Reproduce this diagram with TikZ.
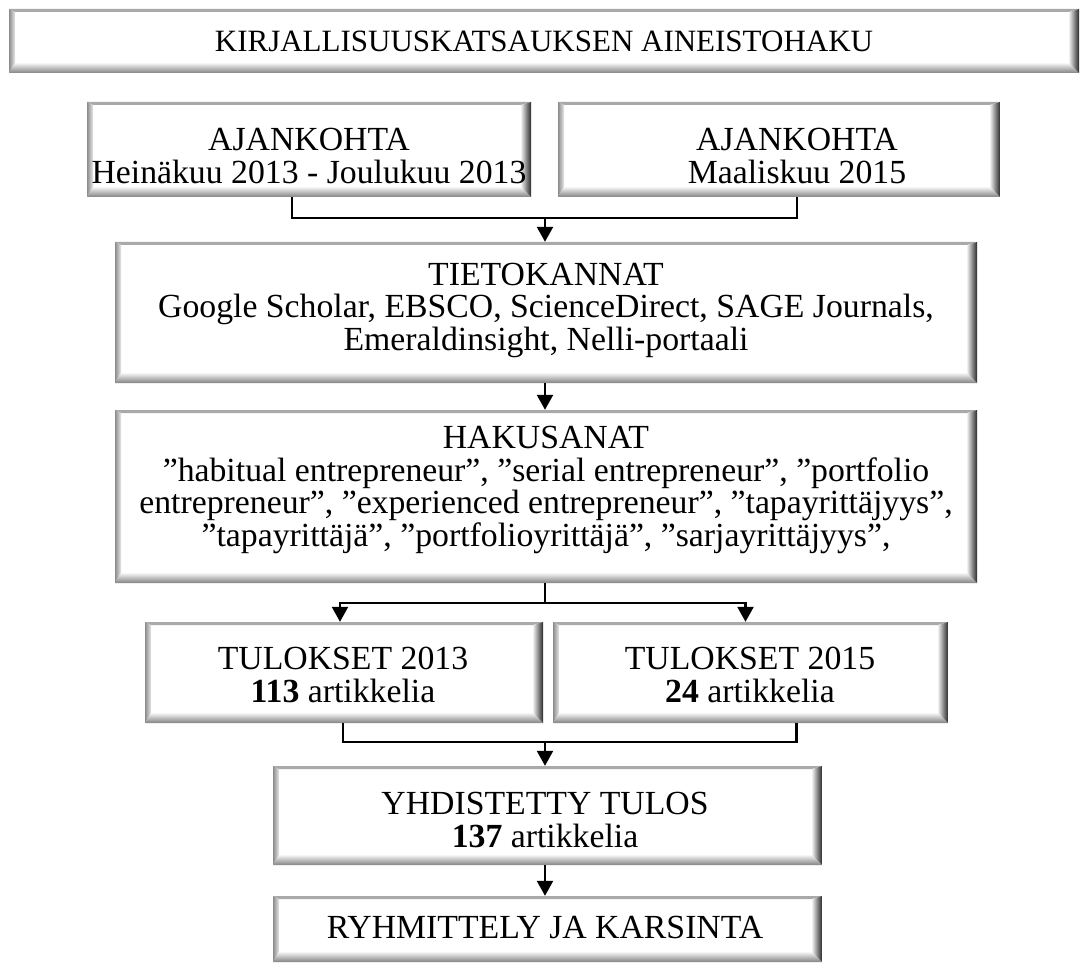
\documentclass[tikz,border=0pt]{standalone}
\usepackage{fontspec}
\setmainfont{Liberation Serif}
\usetikzlibrary{arrows.meta,calc}

% bevel colours
\definecolor{bvTop}{HTML}{A9A9A9}
\definecolor{bvLeftOut}{HTML}{8C8C8C}
\definecolor{bvLeftIn}{HTML}{E8E8E8}
\definecolor{bvBotIn}{HTML}{F6F6F6}
\definecolor{bvBotOut}{HTML}{828282}
\definecolor{bvRightIn}{HTML}{F0F0F0}
\definecolor{bvRightOut}{HTML}{2A2A2A}

% raised frame: thin top, narrow left, wide bottom and right edges
\newcommand\bevelframe{%
  \fill[bvTop] let \p1=(path picture bounding box.south west),\p2=(path picture bounding box.north east) in
    (\x1,\y2) -- (\x2,\y2) -- (\x2-10pt,\y2-3pt) -- (\x1+6pt,\y2-3pt) -- cycle;
  \shade[left color=bvLeftOut,right color=bvLeftIn] let \p1=(path picture bounding box.south west),\p2=(path picture bounding box.north east) in
    (\x1,\y2) -- (\x1+6pt,\y2-3pt) -- (\x1+6pt,\y1+10pt) -- (\x1,\y1) -- cycle;
  \shade[top color=bvBotIn,bottom color=bvBotOut] let \p1=(path picture bounding box.south west),\p2=(path picture bounding box.north east) in
    (\x1,\y1) -- (\x1+6pt,\y1+10pt) -- (\x2-10pt,\y1+10pt) -- (\x2,\y1) -- cycle;
  \shade[left color=bvRightIn,right color=bvRightOut] let \p1=(path picture bounding box.south west),\p2=(path picture bounding box.north east) in
    (\x2,\y1) -- (\x2-10pt,\y1+10pt) -- (\x2-10pt,\y2-3pt) -- (\x2,\y2) -- cycle;
}

\tikzset{
  bevelbox/.style={draw=none, fill=white, inner sep=0pt, path picture={\bevelframe}},
  label12/.style={align=center, inner sep=0pt, font=\fontsize{33.75}{32.5}\selectfont},
  label11/.style={align=center, inner sep=0pt, font=\fontsize{31}{31}\selectfont},
  conn/.style={line width=2.4pt, black},
  arr/.style={-{Triangle[width=16pt,length=15pt]}}
}

% box from its corners (left, top, right, bottom), in pixels from the top left
\newcommand\bevelpanel[5]{%
  \node[bevelbox, minimum width={(#4-#2)*1pt}, minimum height={(#5-#3)*1pt}]
    (#1) at ({(#2+#4)/2},{-(#3+#5)/2}) {};}

\begin{document}
\begin{tikzpicture}[x=1pt,y=1pt]
  \fill[white] (0,0) rectangle (1082,-968);
  \useasboundingbox (0,0) rectangle (1082,-968);

  % boxes
  \bevelpanel{title}{9}{9}{1079}{73}
  \bevelpanel{ajA}{87}{102}{531}{197}
  \bevelpanel{ajB}{558}{102}{1000}{197}
  \bevelpanel{tk}{115}{242}{977}{383}
  \bevelpanel{hk}{115}{410}{977}{583}
  \bevelpanel{tA}{145}{622}{543}{723}
  \bevelpanel{tB}{553}{622}{948}{723}
  \bevelpanel{yt}{273}{766}{822}{865}
  \bevelpanel{rk}{273}{896}{822}{962}

  % texts
  \node[label11] (titleT) at (544,-41) {KIRJALLISUUSKATSAUKSEN AINEISTOHAKU};
  \node[label12] (ajAT) at (309,-156) {AJANKOHTA\\Heinäkuu 2013 - Joulukuu 2013};
  \node[label12] (ajBT) at (797,-156) {AJANKOHTA\\Maaliskuu 2015};
  \node[label12] (tkT) at (546,-310) {TIETOKANNAT\\Google Scholar, EBSCO, ScienceDirect, SAGE Journals,\\Emeraldinsight, Nelli-portaali};
  \node[label12] (hkT) at (546,-490) {HAKUSANAT\\”habitual entrepreneur”, ”serial entrepreneur”, ”portfolio\\entrepreneur”, ”experienced entrepreneur”, ”tapayrittäjyys”,\\”tapayrittäjä”, ”portfolioyrittäjä”, ”sarjayrittäjyys”,};
  \node[label12] (tAT) at (343,-675) {TULOKSET 2013\\\textbf{113} artikkelia};
  \node[label12] (tBT) at (750,-675) {TULOKSET 2015\\\textbf{24} artikkelia};
  \node[label12] (ytT) at (545,-820) {YHDISTETTY TULOS\\\textbf{137} artikkelia};
  \node[label12] (rkT) at (545,-927) {RYHMITTELY JA KARSINTA};

  % junctions
  \coordinate (j1) at (545,-218);
  \coordinate (j2) at (545,-603);
  \coordinate (j3) at (545,-742);

  % connectors
  \draw[conn] ([xshift=-17pt]ajA.south) |- (j1) -| ([xshift=18pt]ajB.south);
  \draw[conn,arr] (j1) -- (j1 |- tk.north);
  \draw[conn,arr] (j1 |- tk.south) -- (j1 |- hk.north);
  \draw[conn] (j2 |- hk.south) -- (j2);
  \draw[conn,arr] (j2) -| ([xshift=-4pt]tA.north);
  \draw[conn,arr] (j2) -| ([xshift=-5pt]tB.north);
  \draw[conn] ([xshift=-1pt]tA.south) |- (j3) -| ([xshift=46pt]tB.south);
  \draw[conn,arr] (j3) -- (j3 |- yt.north);
  \draw[conn,arr] (j3 |- yt.south) -- (j3 |- rk.north);
\end{tikzpicture}
\end{document}
